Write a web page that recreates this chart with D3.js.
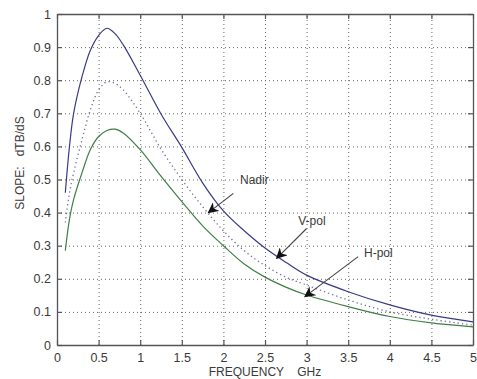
<!DOCTYPE html>
<html>
<head>
<meta charset="utf-8">
<script src="https://cdn.jsdelivr.net/npm/d3@7"></script>
<style>
  body { margin: 0; background: #fff; }
  text { font-family: "Liberation Sans", Arial, sans-serif; fill: #3a3a3a; }
</style>
</head>
<body>
<div id="chart"></div>
<script>
// frequency samples (GHz)
const freq = [0.1, 0.15, 0.2, 0.3, 0.4, 0.5, 0.6, 0.7, 0.8, 1.0, 1.25, 1.5, 1.75, 2.0, 2.25, 2.5, 2.75, 3.0, 3.5, 4.0, 4.5, 5.0];
// slope dTB/dS for each case
const vpol  = [0.46, 0.60, 0.70, 0.81, 0.89, 0.935, 0.957, 0.94, 0.905, 0.815, 0.698, 0.597, 0.49, 0.405, 0.345, 0.293, 0.25, 0.211, 0.161, 0.121, 0.09, 0.07];
const nadir = [0.37, 0.46, 0.52, 0.62, 0.71, 0.77, 0.795, 0.79, 0.77, 0.70, 0.592, 0.50, 0.418, 0.345, 0.285, 0.24, 0.205, 0.181, 0.136, 0.10, 0.078, 0.06];
const hpol  = [0.285, 0.38, 0.44, 0.52, 0.59, 0.63, 0.648, 0.652, 0.64, 0.59, 0.51, 0.433, 0.36, 0.30, 0.245, 0.205, 0.175, 0.151, 0.116, 0.086, 0.067, 0.055];

const xTicks = [0, 0.5, 1, 1.5, 2, 2.5, 3, 3.5, 4, 4.5, 5];
const yTicks = [0, 0.1, 0.2, 0.3, 0.4, 0.5, 0.6, 0.7, 0.8, 0.9, 1];

// annotations: label, label position (data), arrow start, arrow tip
const notes = [
  { label: "Nadir", tx: 2.2, ty: 0.485, x1: 2.12, y1: 0.458, x2: 1.82, y2: 0.40 },
  { label: "V-pol", tx: 2.9, ty: 0.363, x1: 3.0, y1: 0.352, x2: 2.64, y2: 0.262 },
  { label: "H-pol", tx: 3.69, ty: 0.266, x1: 3.62, y1: 0.267, x2: 2.98, y2: 0.146 }
];

const W = 477, H = 379;
const margin = { left: 57, right: 4, top: 14, bottom: 34 };
const width = W - margin.left - margin.right;
const height = H - margin.top - margin.bottom;

const svg = d3.select("#chart").append("svg")
  .attr("width", W)
  .attr("height", H);

svg.append("defs").append("marker")
  .attr("id", "head")
  .attr("viewBox", "0 0 10 10")
  .attr("refX", 9)
  .attr("refY", 5)
  .attr("markerWidth", 11)
  .attr("markerHeight", 11)
  .attr("markerUnits", "userSpaceOnUse")
  .attr("orient", "auto")
  .append("path")
  .attr("d", "M0,0 L10,5 L0,10 L3,5 Z")
  .attr("fill", "#111");

const g = svg.append("g")
  .attr("transform", "translate(" + margin.left + "," + margin.top + ")");

const x = d3.scaleLinear().domain([0, 5]).range([0, width]);
const y = d3.scaleLinear().domain([0, 1]).range([height, 0]);

// dotted grid
g.append("g")
  .attr("class", "grid")
  .attr("transform", "translate(0," + height + ")")
  .call(d3.axisBottom(x).tickValues(xTicks.slice(1, -1)).tickSize(-height).tickFormat(""))
  .call(s => s.select(".domain").remove());
g.append("g")
  .attr("class", "grid")
  .call(d3.axisLeft(y).tickValues(yTicks.slice(1, -1)).tickSize(-width).tickFormat(""))
  .call(s => s.select(".domain").remove());
g.selectAll(".grid line")
  .attr("stroke", "#666")
  .attr("stroke-width", 1)
  .attr("stroke-dasharray", "1,3");

// curves
const line = d3.line()
  .x((d, i) => x(freq[i]))
  .y(d => y(d))
  .curve(d3.curveCatmullRom.alpha(0.5));

g.append("path").datum(nadir)
  .attr("fill", "none")
  .attr("stroke", "#6f6f99")
  .attr("stroke-width", 1.3)
  .attr("stroke-dasharray", "1.3,3")
  .attr("d", line);

g.append("path").datum(hpol)
  .attr("fill", "none")
  .attr("stroke", "#3f7f45")
  .attr("stroke-width", 1.2)
  .attr("d", line);

g.append("path").datum(vpol)
  .attr("fill", "none")
  .attr("stroke", "#3a3a85")
  .attr("stroke-width", 1.2)
  .attr("d", line);

// axes with inward ticks on all four sides
const fmt = d => d3.format("~g")(d);
const xb = g.append("g")
  .attr("transform", "translate(0," + height + ")")
  .call(d3.axisBottom(x).tickValues(xTicks).tickSizeInner(-5).tickSizeOuter(0).tickPadding(8).tickFormat(fmt));
const yl = g.append("g")
  .call(d3.axisLeft(y).tickValues(yTicks).tickSizeInner(-5).tickSizeOuter(0).tickPadding(6).tickFormat(fmt));
const xt = g.append("g")
  .call(d3.axisTop(x).tickValues(xTicks).tickSizeInner(-5).tickSizeOuter(0).tickFormat(""));
const yr = g.append("g")
  .attr("transform", "translate(" + width + ",0)")
  .call(d3.axisRight(y).tickValues(yTicks).tickSizeInner(-5).tickSizeOuter(0).tickFormat(""));

[xb, yl, xt, yr].forEach(a => {
  a.selectAll(".domain").attr("stroke", "#555").attr("stroke-width", 1.3);
  a.selectAll(".tick line").attr("stroke", "#555").attr("stroke-width", 1.2);
  a.selectAll(".tick text")
    .style("font-family", "'Liberation Sans', Arial, sans-serif")
    .style("font-size", "12.5px")
    .attr("fill", "#3a3a3a");
});

// annotations
notes.forEach(n => {
  g.append("line")
    .attr("x1", x(n.x1)).attr("y1", y(n.y1))
    .attr("x2", x(n.x2)).attr("y2", y(n.y2))
    .attr("stroke", "#444")
    .attr("stroke-width", 1.1)
    .attr("marker-end", "url(#head)");
  g.append("text")
    .attr("x", x(n.tx))
    .attr("y", y(n.ty))
    .attr("text-anchor", "start")
    .style("font-size", "12px")
    .text(n.label);
});

// axis titles
svg.append("text")
  .attr("x", margin.left + width / 2)
  .attr("y", 376)
  .attr("text-anchor", "middle")
  .style("font-size", "12px")
  .style("white-space", "pre")
  .text("FREQUENCY    GHz");

svg.append("text")
  .attr("transform", "translate(24,163) rotate(-90)")
  .attr("text-anchor", "middle")
  .style("font-size", "12px")
  .style("white-space", "pre")
  .text("SLOPE:   dTB/dS");
</script>
</body>
</html>
